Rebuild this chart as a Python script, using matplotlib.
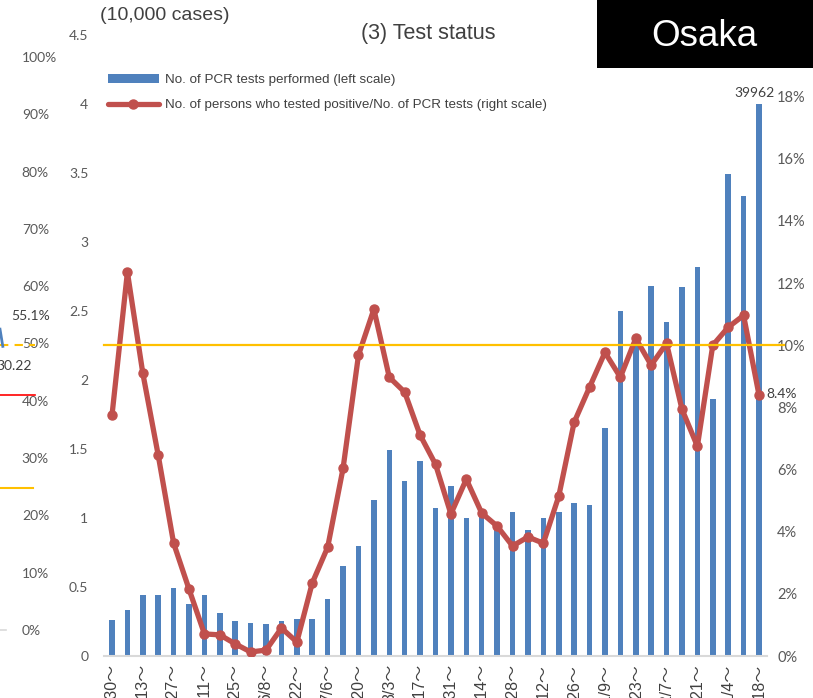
import matplotlib
matplotlib.use("Agg")
import matplotlib.pyplot as plt
from matplotlib.patches import Rectangle
import numpy as np

plt.rcParams["font.family"] = ["Liberation Sans", "DejaVu Sans"]

W, H = 813, 698

# weekly periods (week starting)
week_labels = [
    "3/30～", "4/6～", "4/13～", "4/20～", "4/27～", "5/4～", "5/11～", "5/18～",
    "5/25～", "6/1～", "6/8～", "6/15～", "6/22～", "6/29～", "7/6～", "7/13～",
    "7/20～", "7/27～", "8/3～", "8/10～", "8/17～", "8/24～", "8/31～", "9/7～",
    "9/14～", "9/21～", "9/28～", "10/5～", "10/12～", "10/19～", "10/26～", "11/2～",
    "11/9～", "11/16～", "11/23～", "11/30～", "12/7～", "12/14～", "12/21～", "12/28～",
    "1/4～", "1/11～", "1/18～",
]

# number of PCR tests performed per week
pcr_tests = [
    2600, 3300, 4400, 4400, 4900, 3800, 4400, 3100, 2500, 2400,
    2300, 2500, 2700, 2700, 4100, 6500, 8000, 11300, 14900, 12700,
    14100, 10700, 12300, 10000, 10100, 9500, 10400, 9100, 10000, 10400,
    11100, 10900, 16500, 25000, 23000, 26800, 24200, 26700, 28200, 18600,
    34900, 33300, 39962,
]

# positive / tests (%)
positive_rate = [
    7.75, 12.35, 9.10, 6.46, 3.63, 2.15, 0.71, 0.68, 0.39, 0.13,
    0.19, 0.90, 0.45, 2.35, 3.50, 6.04, 9.68, 11.16, 8.97, 8.49,
    7.11, 6.17, 4.57, 5.69, 4.60, 4.18, 3.54, 3.83, 3.63, 5.14,
    7.52, 8.65, 9.77, 8.97, 10.22, 9.36, 10.06, 7.94, 6.75, 10.0,
    10.58, 10.96, 8.4,
]

threshold_rate = 10

left_ticks = [0, 0.5, 1, 1.5, 2, 2.5, 3, 3.5, 4, 4.5]
right_ticks = [0, 2, 4, 6, 8, 10, 12, 14, 16, 18]

# pieces of the neighbouring chart visible at the left edge
prev_ticks = [0, 0.1, 0.2, 0.3, 0.4, 0.5, 0.6, 0.7, 0.8, 0.9, 1.0]
prev_red_level = 0.41
prev_yellow_level = 0.248
prev_dash_level = 0.497
prev_label_pct = (0.86, 0.548, "55.1%")
prev_label_num = (0.92, 0.461, "30.22")

BLUE = "#4F81BD"
RED = "#C0504D"
YELLOW = "#FFC000"
GRAY = "#595959"
DARK = "#404040"
NUM_FONT = ["Lato", "DejaVu Sans"]

fig = plt.figure(figsize=(W / 100, H / 100), dpi=100)

# ---- left-over neighbouring chart ----
ax0 = fig.add_axes([0, (H - 630) / H, 35 / W, 573 / H])
ax0.set_xlim(0, 1)
ax0.set_ylim(0, 1)
for s in ax0.spines.values():
    s.set_visible(False)
ax0.set_xticks([])
ax0.yaxis.tick_right()
ax0.set_yticks(prev_ticks)
ax0.set_yticklabels([f"{int(round(t * 100))}%" for t in prev_ticks])
ax0.tick_params(axis="y", length=0, pad=-9.5, labelsize=10, labelcolor=GRAY)
for lbl in ax0.get_yticklabels():
    lbl.set_fontfamily(NUM_FONT)
ax0.plot([0, 1], [prev_red_level] * 2, color="#FF0000", lw=1.2, clip_on=False)
ax0.plot([0, 0.94], [prev_yellow_level] * 2, color=YELLOW, lw=1.5, clip_on=False)
ax0.plot([0, 1], [prev_dash_level] * 2, color=YELLOW, lw=1.5, ls=(0, (4, 3)), clip_on=False)
ax0.plot([0, 0.17], [0, 0], color="#D9D9D9", lw=1.2, clip_on=False)
ax0.plot([0.0, 0.08], [0.525, 0.495], color=BLUE, lw=2, clip_on=False)
ax0.text(prev_label_pct[0], prev_label_pct[1], prev_label_pct[2], ha="center", va="center",
         fontsize=10, color=DARK, family=NUM_FONT)
ax0.text(prev_label_num[0], prev_label_num[1], prev_label_num[2], ha="right", va="center",
         fontsize=10, color=DARK, family=NUM_FONT)

# ---- main chart ----
ax = fig.add_axes([104.3 / W, (H - 656) / H, 662.4 / W, 621.5 / H])
x = np.arange(len(pcr_tests))
tests_10k = np.array(pcr_tests) / 10000
bars = ax.bar(x, tests_10k, width=0.36, color=BLUE, zorder=2)
ax.set_xlim(-0.5, len(x) - 0.5)
ax.set_ylim(0, 4.5)
ax.set_yticks(left_ticks)
ax.set_yticklabels([f"{t:g}" for t in left_ticks])
ax.set_xticks(x[::2])
ax.set_xticklabels(week_labels[::2], rotation=90, va="top", ha="center")
ax.tick_params(axis="y", length=0, pad=11.5, labelsize=10, labelcolor=GRAY)
ax.tick_params(axis="x", length=0, pad=5.5, labelsize=11.5, labelcolor=DARK)
for lbl in ax.get_yticklabels():
    lbl.set_fontfamily(NUM_FONT)
for lbl in ax.get_xticklabels():
    lbl.set_fontfamily(["Liberation Sans", "Noto Sans CJK JP"])
for side in ["top", "left", "right"]:
    ax.spines[side].set_visible(False)
ax.spines["bottom"].set_color("#D9D9D9")
ax.spines["bottom"].set_linewidth(1.5)

ax.annotate(f"{pcr_tests[-1]}", (x[-1], tests_10k[-1]), xytext=(-3, 4),
            textcoords="offset points", ha="center", va="bottom",
            fontsize=10, color=DARK, family=NUM_FONT)

ax2 = ax.twinx()
ax2.set_ylim(0, 20)
line, = ax2.plot(x, positive_rate, color=RED, lw=3.8, marker="o", ms=6.5,
                 solid_capstyle="round", zorder=3)
ax2.plot([-0.55, 43.6], [threshold_rate] * 2, color=YELLOW, lw=1.6, zorder=4, clip_on=False)
ax2.set_yticks(right_ticks)
ax2.set_yticklabels([f"{t}%" for t in right_ticks])
ax2.tick_params(axis="y", length=0, pad=7.5, labelsize=10.5, labelcolor=GRAY)
for lbl in ax2.get_yticklabels():
    lbl.set_fontfamily(NUM_FONT)
for s in ax2.spines.values():
    s.set_visible(False)
ax2.annotate(f"{positive_rate[-1]}%", (x[-1], positive_rate[-1]), xytext=(5, 1),
             textcoords="offset points", ha="left", va="center",
             fontsize=10, color=DARK, family=NUM_FONT)

ax.legend([bars, line],
          ["No. of PCR tests performed (left scale)",
           "No. of persons who tested positive/No. of PCR tests (right scale)"],
          loc="upper left", bbox_to_anchor=(108 / W, 1 - 74 / H),
          bbox_transform=fig.transFigure, frameon=False, fontsize=9.6,
          handlelength=3.8, handleheight=0.6, handletextpad=0.45,
          labelspacing=1.0, borderpad=0, borderaxespad=0, labelcolor=DARK)

fig.text(165 / W, 1 - 15 / H, "(10,000 cases)", ha="center", va="center",
         fontsize=14, color=DARK)
fig.text(428 / W, 1 - 34 / H, "(3) Test status", ha="center", va="center",
         fontsize=15.5, color=DARK)

fig.patches.append(Rectangle((597 / W, 1 - 68 / H), 216 / W, 68 / H,
                             transform=fig.transFigure, facecolor="black",
                             edgecolor="none", zorder=10))
fig.text(704 / W, 1 - 36 / H, "Osaka", ha="center", va="center",
         fontsize=26.5, color="white", zorder=11)

fig.savefig("out.png", dpi=100)
